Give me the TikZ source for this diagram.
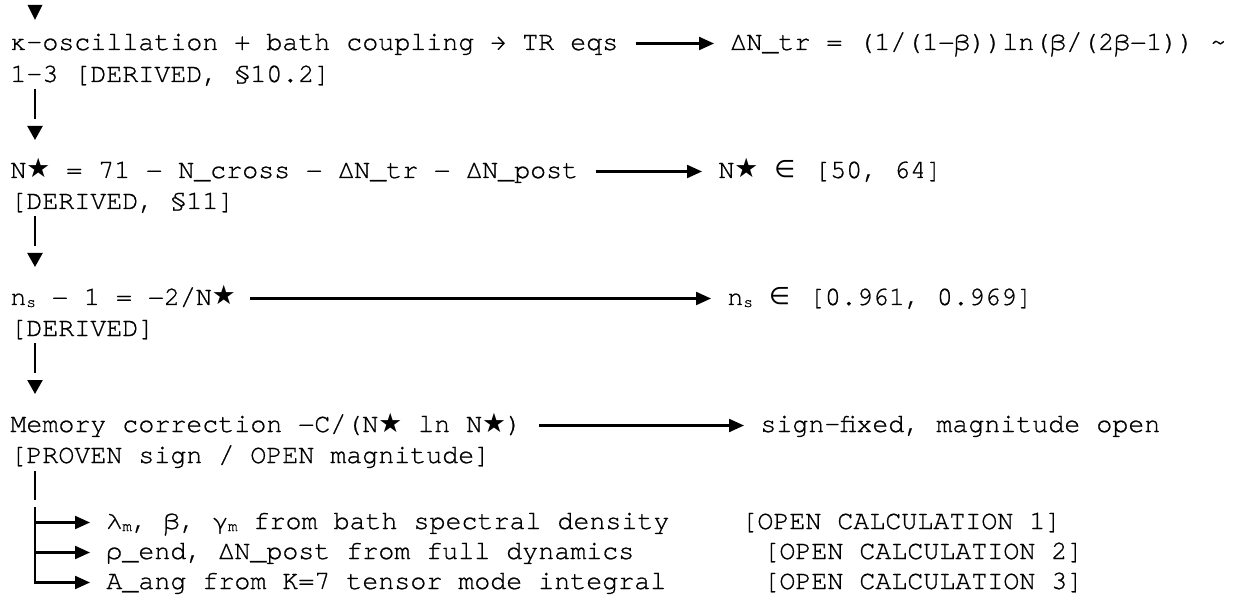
\documentclass[tikz,border=0pt]{standalone}
\usepackage{fontspec}
\setmonofont[FakeBold=0.8]{texgyrecursor-regular.otf}
\newfontfamily\starfont{DejaVu Sans}
\usetikzlibrary{arrows.meta}

\newcommand{\nstar}{N{\starfont\mdseries ★}}
\newcommand{\elem}{{\starfont\mdseries\fontsize{12pt}{12pt}\selectfont ∈\kern1.5pt}}
\newcommand{\lowsub}[1]{\raisebox{-1pt}{\fontsize{8pt}{8pt}\selectfont #1}}

\tikzset{
  txt/.style={anchor=base west, inner sep=0pt, font=\ttfamily\bfseries\fontsize{13.33pt}{16pt}\selectfont},
  stem/.style={line width=1.1pt},
  flow/.style={stem, -{Triangle[length=7.5pt,width=6.5pt]}},
  down/.style={stem, -{Triangle[length=7pt,width=7.5pt]}, dash pattern=on 15pt off 10pt},
}

\begin{document}
\begin{tikzpicture}[x=0.5pt,y=-0.5pt]
\useasboundingbox (0,0) rectangle (1234,598);

% arrow coming in from above
\fill (27.5,5) -- (42.5,5) -- (35,20) -- cycle;

% kappa oscillation
\node[txt] (k1) at (10,50) {κ-oscillation + bath coupling → TR eqs};
\node[txt] (k2) at (10,82) {1–3 [DERIVED, §10.2]};
\node[txt] (kr) at (730,50) {ΔN\_tr = (1/(1−β))ln(β/(2β−1)) \textasciitilde};

\draw[flow] ([shift={(17,-6.5)}]k1.base east) -- ([shift={(-16,-6.5)}]kr.base west);

% N star
\node[txt] (n1) at (10,178) {\nstar{} = 71 − N\_cross − ΔN\_tr − ΔN\_post};
\node[txt] (n2) at (10,209) {[DERIVED, §11]};
\node[txt] (nr) at (718,178) {\nstar{} \elem{} [50, 64]};

\draw[down] ([shift={(25,7)}]k2.base west) -- ([shift={(25,-38)}]n1.base west);
\draw[flow] ([shift={(17,-6.5)}]n1.base east) -- ([shift={(-16,-6.5)}]nr.base west);

% spectral index
\node[txt] (s1) at (10,305) {n\lowsub{s} − 1 = −2/\nstar};
\node[txt] (s2) at (10,336) {[DERIVED]};
\node[txt] (sr) at (727,305) {n\lowsub{s} \elem{} [0.961, 0.969]};

\draw[down] ([shift={(25,7)}]n2.base west) -- ([shift={(25,-38)}]s1.base west);
\draw[flow] ([shift={(14,-6.5)}]s1.base east) -- ([shift={(-16,-6.5)}]sr.base west);

% memory correction
\node[txt] (m1) at (10,432) {Memory correction −C/(\nstar{} ln \nstar)};
\node[txt] (m2) at (10,463) {[PROVEN sign / OPEN magnitude]};
\node[txt] (mr) at (760,432) {sign-fixed, magnitude open};

\draw[down] ([shift={(25,7)}]s2.base west) -- ([shift={(25,-38)}]m1.base west);
\draw[flow] ([shift={(17,-6.5)}]m1.base east) -- ([shift={(-16,-6.5)}]mr.base west);

% open calculations
\coordinate (fork) at (35,507);
\node[txt] (b1) at (106,529) {λ\lowsub{m}, β, γ\lowsub{m} from bath spectral density};
\node[txt] (b2) at (106,559) {ρ\_end, ΔN\_post from full dynamics};
\node[txt] (b3) at (106,589) {A\_ang from K=7 tensor mode integral};
\node[txt] (t1) at (741,529) {[OPEN CALCULATION 1]};
\node[txt] (t2) at (763,559) {[OPEN CALCULATION 2]};
\node[txt] (t3) at (763,589) {[OPEN CALCULATION 3]};

\draw[stem] ([shift={(25,8)}]m2.base west) -- ([yshift=3.5pt]fork);
\draw[flow] (fork) |- ([shift={(-16,-6.5)}]b1.base west);
\draw[flow] (fork) |- ([shift={(-16,-6.5)}]b2.base west);
\draw[flow] (fork) |- ([shift={(-16,-6.5)}]b3.base west);

\end{tikzpicture}
\end{document}
